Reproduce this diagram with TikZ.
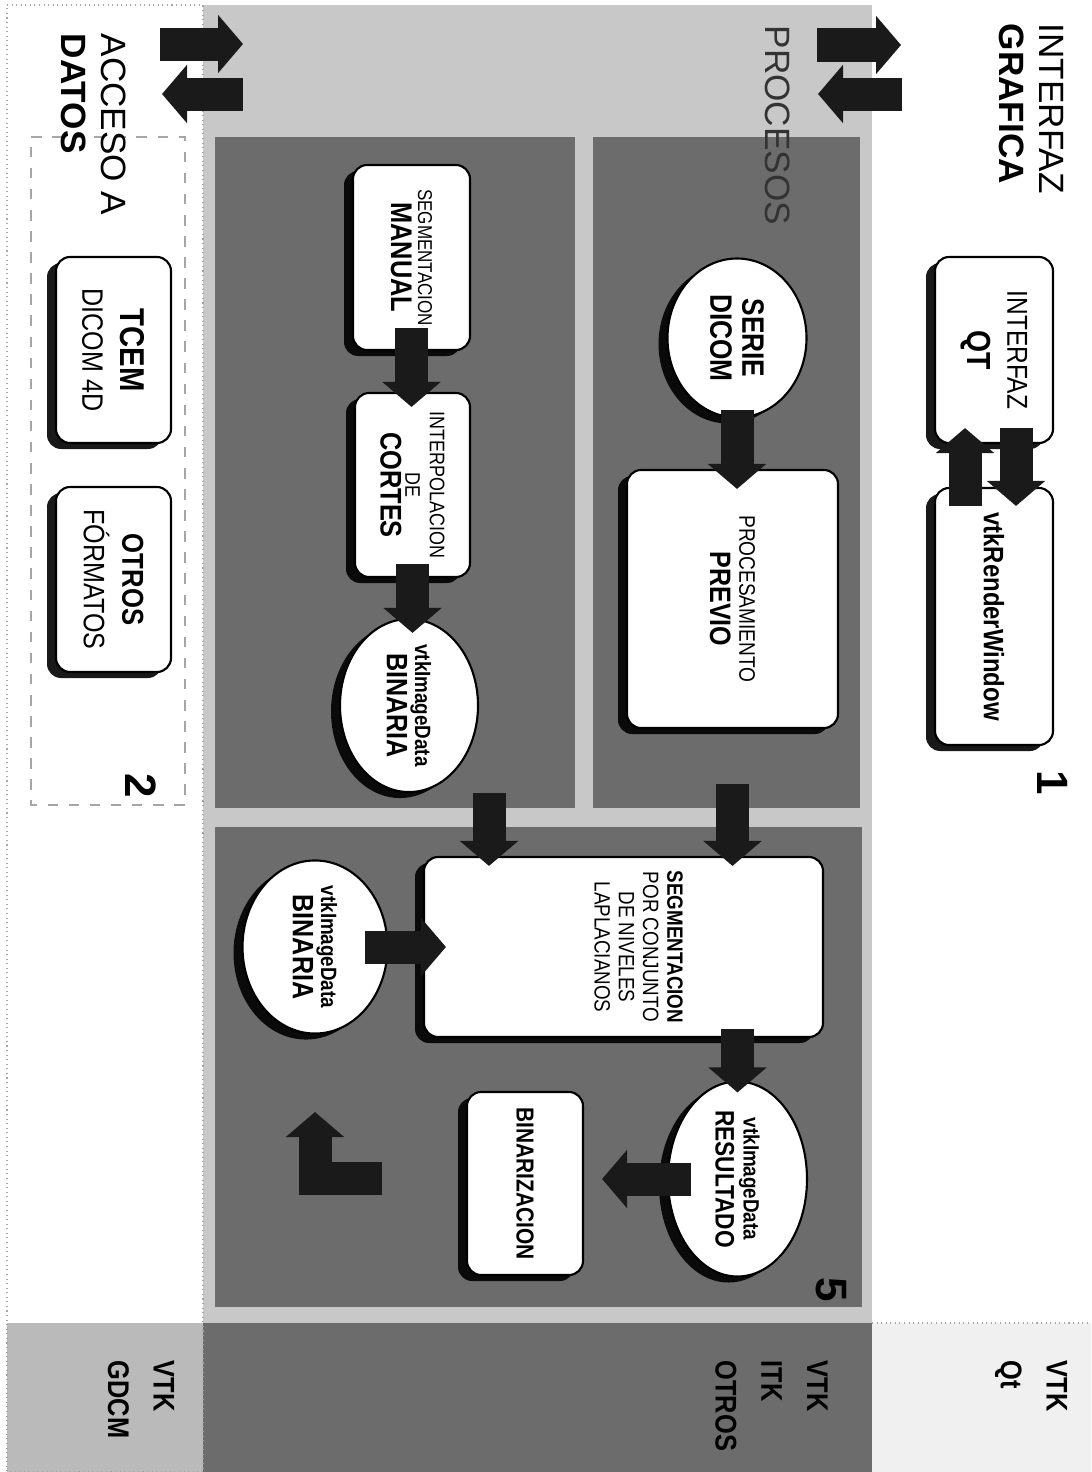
\documentclass[tikz,border=0pt]{standalone}
\usepackage{fontspec}
\setmainfont{Liberation Sans}
\newfontfamily\narrowsans{Liberation Sans}[FakeStretch=0.85]
\usetikzlibrary{shapes.geometric, arrows.meta, shadows, calc}
\definecolor{mypanel}{RGB}{108,108,108}
\definecolor{mylayer}{RGB}{200,200,200}
\definecolor{myband}{RGB}{186,186,186}
\definecolor{mypale}{RGB}{240,240,240}
\definecolor{myarrow}{RGB}{26,26,26}
\newcommand{\boxbf}[2]{{\bfseries\fontsize{#1}{#1}\selectfont #2}}
\newcommand{\boxrm}[2]{{\fontsize{#1}{#1}\selectfont #2}}
\tikzset{
  procbox/.style={rectangle, draw=black, fill=white, rounded corners=4pt,
    line width=0.6pt, align=center, inner sep=0pt,
    font=\narrowsans\fontsize{6}{7.6}\selectfont,
    drop shadow={shadow xshift=-0.09cm, shadow yshift=-0.06cm, opacity=0.9, fill=black}},
  dataoval/.style={ellipse, draw=black, fill=white,
    line width=0.6pt, align=center, inner sep=0pt,
    font=\narrowsans\fontsize{6}{8}\selectfont,
    drop shadow={shadow xshift=-0.09cm, shadow yshift=-0.06cm, opacity=0.9, fill=black}},
  flow/.style={-{Triangle[length=0.25cm, width=0.57cm]}, line width=0.33cm, draw=myarrow},
  layertitle/.style={anchor=west, align=left, inner sep=0pt, font=\fontsize{10}{11.4}\selectfont},
  libtext/.style={anchor=west, align=left, inner sep=0pt, font=\narrowsans\bfseries\fontsize{8.5}{13}\selectfont},
  panelnum/.style={inner sep=0pt, font=\bfseries\fontsize{12.5}{12.5}\selectfont}
}

\begin{document}
\begin{tikzpicture}[rotate=-90, transform shape]
  \useasboundingbox (0,0) rectangle (14.72,10.91);

  % Layers
  \fill[white] (0,0) rectangle (14.72,10.91);
  \fill[mylayer] (0.05,2.03) rectangle (13.23,8.72);
  \fill[mypanel] (1.37,5.93) rectangle (8.08,8.60);
  \fill[mypanel] (1.37,2.15) rectangle (8.08,5.75);
  \fill[mypanel] (8.27,2.15) rectangle (13.07,8.62);
  \fill[myband] (13.23,0.07) rectangle (14.72,2.03);
  \fill[mypanel] (13.23,2.03) rectangle (14.72,8.72);
  \fill[mypale] (13.23,8.72) rectangle (14.72,10.91);
  \draw[densely dotted, black!35, line width=0.3pt] (0.05,0.07) rectangle (14.72,2.03);
  \draw[densely dotted, black!35, line width=0.3pt] (13.23,8.72) -- (13.23,10.91);
  \draw[dashed, black!35, line width=0.3pt] (1.37,0.31) rectangle (8.05,1.85);

  % Nodes
  \node[procbox, minimum width=1.86cm, minimum height=1.18cm,
    font=\narrowsans\fontsize{8}{11.4}\selectfont] (qt) at (3.50,9.94)
    {\boxrm{8.2}{INTERFAZ}\\\boxbf{9.5}{QT}};
  \node[procbox, minimum width=2.57cm, minimum height=1.18cm] (render) at (6.165,9.94)
    {\boxbf{8}{vtkRenderWindow}};
  \node[dataoval, minimum width=1.59cm, minimum height=1.39cm,
    font=\narrowsans\fontsize{8}{9.1}\selectfont] (serie) at (3.38,7.37)
    {\boxbf{8.8}{SERIE}\\\boxbf{8.8}{DICOM}};
  \node[procbox, minimum width=2.58cm, minimum height=2.11cm,
    font=\narrowsans\fontsize{6}{8.3}\selectfont] (previo) at (5.99,7.325)
    {\boxrm{6.4}{PROCESAMIENTO}\\\boxbf{8.4}{PREVIO}};
  \node[procbox, minimum width=1.85cm, minimum height=1.17cm,
    font=\narrowsans\fontsize{6}{7.7}\selectfont] (manual) at (2.575,4.115)
    {\boxrm{5.7}{SEGMENTACION}\\\boxbf{8.5}{MANUAL}};
  \node[procbox, minimum width=1.84cm, minimum height=1.15cm,
    font=\narrowsans\fontsize{6}{7}\selectfont] (cortes) at (4.85,4.125)
    {\boxrm{6}{INTERPOLACION}\\\boxrm{6}{DE}\\\boxbf{8.5}{CORTES}};
  \node[dataoval, minimum width=1.55cm, minimum height=1.38cm] (binaria) at (7.055,4.09)
    {\boxbf{6.3}{vtkImageData}\\\boxbf{8.4}{BINARIA}};
  \node[procbox, minimum width=1.80cm, minimum height=3.99cm,
    label={[name=segtext, yshift=0.15cm, align=center, inner sep=0pt,
      font=\narrowsans\fontsize{6.3}{6.9}\selectfont]center:{\bfseries SEGMENTACION}\\POR CONJUNTO\\DE NIVELES\\LAPLACIANOS}]
    (seg) at (9.47,6.235) {};
  \node[dataoval, minimum width=1.62cm, minimum height=1.45cm] (binaria2) at (9.47,3.15)
    {\boxbf{6.3}{vtkImageData}\\\boxbf{8.4}{BINARIA}};
  \node[dataoval, minimum width=1.62cm, minimum height=1.39cm] (resultado) at (11.79,7.375)
    {\boxbf{6.3}{vtkImageData}\\\boxbf{7.6}{RESULTADO}};
  \node[procbox, minimum width=1.83cm, minimum height=1.16cm] (binariz) at (11.835,5.25)
    {\boxbf{7}{BINARIZACION}};
  \node[procbox, minimum width=1.86cm, minimum height=1.15cm,
    font=\narrowsans\fontsize{8}{11}\selectfont] (tcem) at (3.50,1.135)
    {\boxbf{9.8}{TCEM}\\\boxrm{8.4}{DICOM 4D}};
  \node[procbox, minimum width=1.85cm, minimum height=1.15cm,
    font=\narrowsans\fontsize{8}{11}\selectfont] (otros) at (5.795,1.135)
    {\boxbf{8.6}{OTROS}\\\boxrm{8.4}{FÓRMATOS}};

  % Paths
  \draw[flow, shorten <=-0.16cm, shorten >=-0.19cm] ([yshift=0.22cm]qt.east) -- ([yshift=0.22cm]render.west);
  \draw[flow, shorten <=-0.19cm, shorten >=-0.16cm] ([yshift=-0.29cm]render.west) -- ([yshift=-0.29cm]qt.east);
  \draw[flow, shorten <=-0.09cm, shorten >=-0.2cm] (serie.east) -- (serie.east -| previo.west);
  \draw[flow, shorten <=-0.23cm, shorten >=-0.15cm] (manual.east) -- (manual.east -| cortes.west);
  \draw[flow, shorten <=-0.14cm, shorten >=-0.15cm] (cortes.east) -- (cortes.east -| binaria.west);
  \coordinate (binout) at ($(binaria.east)+(0,0.8)$);
  \draw[flow, shorten >=-0.1cm] (binout) -- (binout -| seg.west);
  \draw[flow, shorten <=0.55cm, shorten >=-0.1cm] (previo.east) -- (previo.east -| seg.west);
  \draw[flow, shorten <=-0.235cm, shorten >=-0.23cm] (binaria2.north) -- (binaria2.north |- seg.south);
  \draw[flow, shorten <=-0.09cm, shorten >=-0.12cm] (resultado.west -| seg.east) -- (resultado.west);
  \draw[flow, shorten <=-0.24cm, shorten >=0.18cm] (resultado.south) -- (resultado.south |- binariz.north);
  \coordinate (loopstart) at (11.78,3.82);
  \coordinate (loopend) at (11.12,3.15);
  \draw[flow] (loopstart) |- (loopend);

  % Layer exchange
  \coordinate (procup) at (0.45,8.17);
  \coordinate (guidown) at (0.45,9.01);
  \coordinate (guiup) at (0.94,9.02);
  \coordinate (procdown) at (0.94,8.18);
  \draw[flow] (procup) -- (guidown);
  \draw[flow] (guiup) -- (procdown);
  \coordinate (dataup) at (0.44,1.60);
  \coordinate (procin) at (0.44,2.43);
  \coordinate (procout) at (0.94,2.43);
  \coordinate (datain) at (0.94,1.62);
  \draw[flow] (dataup) -- (procin);
  \draw[flow] (procout) -- (datain);

  % Labels
  \node[layertitle] (grafica) at (0.23,10.31) {INTERFAZ\\\textbf{GRAFICA}};
  \node[layertitle, text=black!80] (procesos) at (0.25,7.78) {PROCESOS};
  \node[layertitle] (datos) at (0.33,0.935) {ACCESO A\\\textbf{DATOS}};
  \node[panelnum] (num1) at (7.83,10.53) {1};
  \node[panelnum] (num2) at (7.86,1.41) {2};
  \node[panelnum] (num5) at (12.9,8.31) {5};
  \node[libtext] (libdatos) at (13.6,1.41) {VTK\\GDCM};
  \node[libtext] (libproc) at (13.6,7.715) {VTK\\ITK\\OTROS};
  \node[libtext] (libgui) at (13.6,10.31) {VTK\\Qt};
\end{tikzpicture}
\end{document}
